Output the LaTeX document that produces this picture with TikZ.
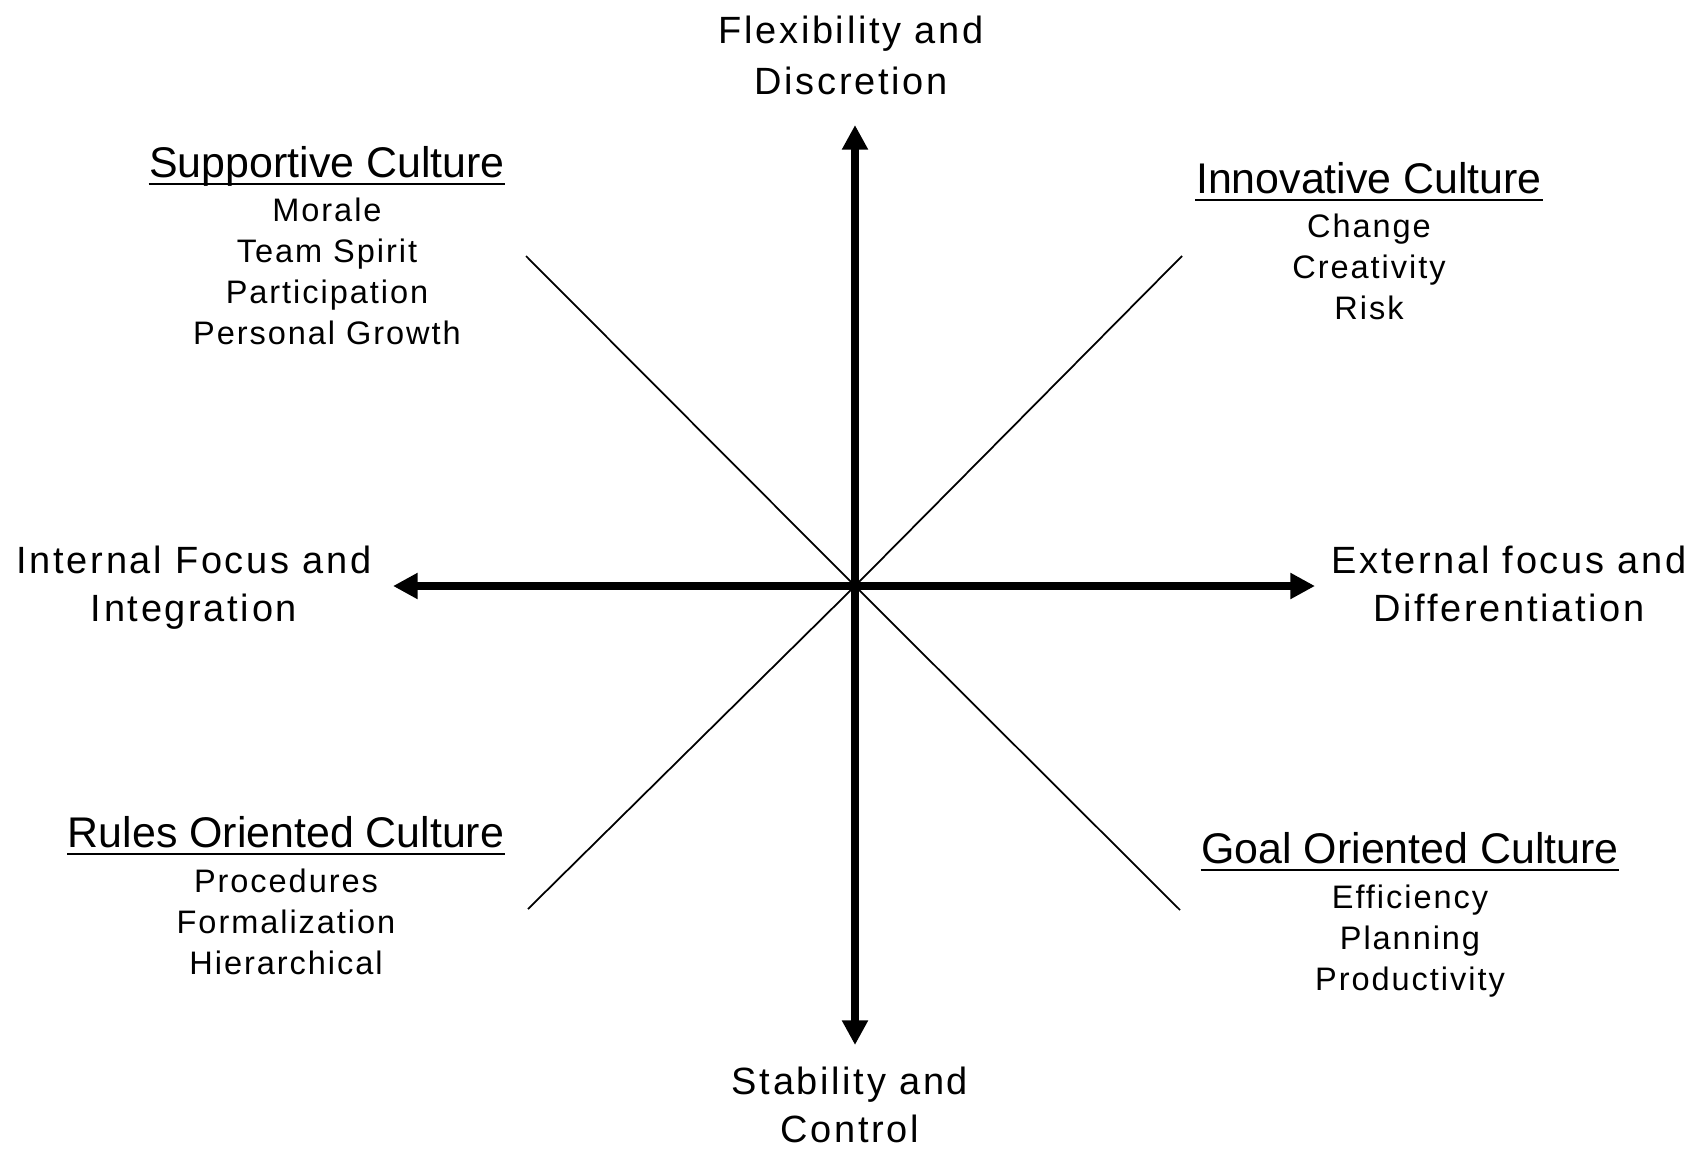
\documentclass[tikz,border=0pt]{standalone}
\usepackage{fontspec}
\setmainfont{Liberation Sans}
\newfontfamily\axisfont[LetterSpace=7]{Liberation Sans}
\newfontfamily\listfont[LetterSpace=6]{Liberation Sans}
\usetikzlibrary{arrows.meta, positioning}

\begin{document}
\begin{tikzpicture}[x=0.01cm, y=-0.01cm, >={Triangle[length=7pt, width=7pt]}]
    \tikzstyle{axislabel} = [align=center, inner sep=0pt, anchor=north, font=\axisfont\fontsize{10.8}{13.7}\selectfont]
    \tikzstyle{head} = [inner sep=0pt, anchor=base, font=\fontsize{12.2}{14}\selectfont]
    \tikzstyle{list} = [align=center, inner sep=0pt, font=\listfont\fontsize{9.25}{11.66}\selectfont]
    \tikzstyle{axis} = [<->, line width=2pt]
    \tikzstyle{diag} = [line width=0.5pt]
    \tikzstyle{uline} = [line width=0.6pt]

    \useasboundingbox (0,0) rectangle (1703,1151);

    % Define points
    \coordinate (o) at (855,586);
    \coordinate (n) at (855,125);
    \coordinate (s) at (855,1045);
    \coordinate (w) at (393,586);
    \coordinate (e) at (1315,586);
    \coordinate (nw) at (526,256);
    \coordinate (ne) at (1182,256);
    \coordinate (sw) at (528,909);
    \coordinate (se) at (1180,910);

    % Axis labels
    \node[axislabel, font=\axisfont\fontsize{10.8}{14.7}\selectfont] (flex) at (851,15) {Flexibility and\\Discretion};
    \node[axislabel] (stab) at (850,1066) {Stability and\\Control};
    \node[axislabel] (intl) at (194,545) {Internal Focus and\\Integration};
    \node[axislabel] (extl) at (1509,545) {External focus and\\Differentiation};

    % Culture headings
    \node[head] (supp) at (327,177) {Supportive Culture};
    \node[head] (innov) at (1369,193) {Innovative Culture};
    \node[head] (rules) at (286,847) {Rules Oriented Culture};
    \node[head] (goal) at (1410,863) {Goal Oriented Culture};

    % Culture traits
    \node[list] (supplist) [below=0.2cm of supp.base] {Morale\\Team Spirit\\Participation\\Personal Growth};
    \node[list] (innovlist) [below=0.2cm of innov.base] {Change\\Creativity\\Risk};
    \node[list] (ruleslist) [below=0.21cm of rules.base] {Procedures\\Formalization\\Hierarchical};
    \node[list] (goallist) [below=0.21cm of goal.base] {Efficiency\\Planning\\Productivity};

    % Underlines
    \foreach \h in {supp, innov, rules, goal}
        \draw[uline] ([yshift=-0.07cm]\h.base west) -- ([yshift=-0.07cm]\h.base east);

    % Draw diagonals
    \draw[diag] (nw) -- (o) -- (se);
    \draw[diag] (ne) -- (o) -- (sw);

    % Draw axes
    \draw[axis] (w) -- (e);
    \draw[axis] (s) -- (n);
\end{tikzpicture}
\end{document}
